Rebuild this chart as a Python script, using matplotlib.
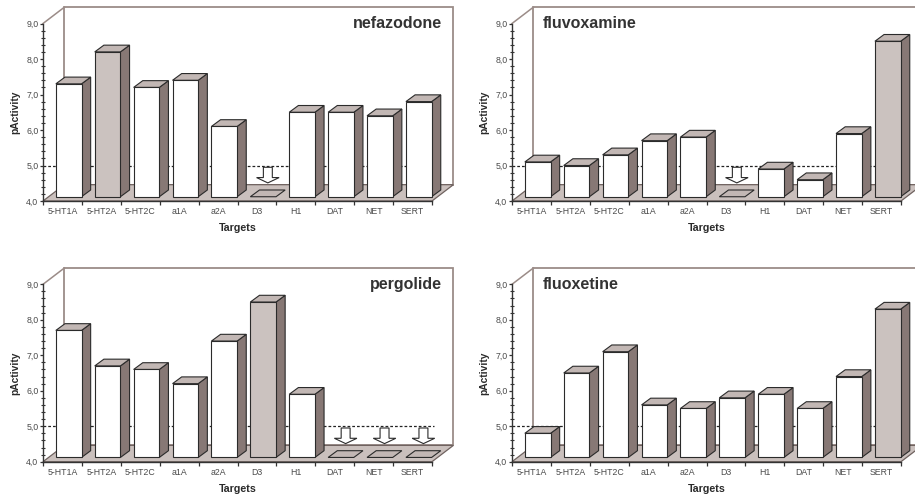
import matplotlib
matplotlib.use("Agg")
import matplotlib.pyplot as plt
from matplotlib.patches import Polygon, Rectangle
from matplotlib.ticker import MultipleLocator, FixedLocator, FixedFormatter, FuncFormatter

plt.rcParams["font.family"] = ["Liberation Sans", "DejaVu Sans"]

# ---- data -----------------------------------------------------------------
targets = ["5-HT1A", "5-HT2A", "5-HT2C", "a1A", "a2A", "D3", "H1", "DAT", "NET", "SERT"]

# None = activity below the 5.0 threshold (drawn as a down arrow)
nefazodone = [7.3, 8.2, 7.2, 7.4, 6.1, None, 6.5, 6.5, 6.4, 6.8]
fluvoxamine = [5.1, 5.0, 5.3, 5.7, 5.8, None, 4.9, 4.6, 5.9, 8.5]
pergolide = [7.7, 6.7, 6.6, 6.2, 7.4, 8.5, 5.9, None, None, None]
fluoxetine = [4.8, 6.5, 7.1, 5.6, 5.5, 5.8, 5.9, 5.5, 6.4, 8.3]

drugs = ["nefazodone", "fluvoxamine", "pergolide", "fluoxetine"]
series = [nefazodone, fluvoxamine, pergolide, fluoxetine]
primary_target = ["5-HT2A", "SERT", "D3", "SERT"]

threshold = 5.0
y_min, y_max = 4.0, 9.0

# ---- styling ----------------------------------------------------------------
WALL_EDGE = "#9b8c88"
FLOOR = "#cac0bd"
SIDE = "#877875"
TOP = "#c2b7b4"
HILITE = "#cbc2bf"
EDGE = "#2b2b2b"

DX, DY = 0.55, 0.46          # depth of the box (x in slots, y in value units)
BX0, BX1 = 0.33, 0.99        # bar front face within its slot
BASE = 4.12                  # bar base (sits back on the floor)
BDX, BDY = 0.235, 0.19       # bar depth

fig = plt.figure(figsize=(9.15, 4.95), dpi=100)
W, H = 915.0, 495.0
positions = [
    (43, 201.0, 177.5, "right"),
    (512, 201.0, 177.5, "left"),
    (43, 461.7, 177.4, "right"),
    (512, 461.7, 177.4, "left"),
]


def comma_fmt(v, pos):
    return f"{v:.1f}".replace(".", ",")


for drug, vals, prim, (px, pbot, ph, title_side) in zip(drugs, series, primary_target, positions):
    ax = fig.add_axes([px / W, (H - pbot) / H, 389 / W, ph / H])
    ax.set_xlim(0, len(targets))
    ax.set_ylim(y_min, y_max)
    ax.patch.set_visible(False)
    n = len(targets)

    # back wall and left edge
    ax.add_patch(Rectangle((DX, y_min + DY), n, y_max - y_min, facecolor="white",
                           edgecolor=WALL_EDGE, lw=1.3, zorder=0.5, clip_on=False))
    ax.plot([0, DX], [y_max, y_max + DY], color=WALL_EDGE, lw=1.1, zorder=0.6, clip_on=False)

    # floor
    ax.add_patch(Polygon([(0, y_min), (n, y_min), (n + DX, y_min + DY), (DX, y_min + DY)],
                         closed=True, facecolor=FLOOR, edgecolor="#6f625f", lw=0.9,
                         zorder=1, clip_on=False))

    # threshold line
    ax.plot([0, n + 0.05], [threshold, threshold], color="#222222", lw=0.9,
            dashes=(2.2, 1.6), zorder=1.5, clip_on=False)

    for i, (t, v) in enumerate(zip(targets, vals)):
        x0, x1 = i + BX0, i + BX1
        if v is None:
            # flat marker on the floor plus a down arrow
            ax.add_patch(Polygon([(x0, BASE), (x1, BASE), (x1 + BDX, BASE + BDY), (x0 + BDX, BASE + BDY)],
                                 closed=True, facecolor=TOP, edgecolor=EDGE, lw=0.8, zorder=3,
                                 clip_on=False))
            cx = i + 0.78
            sw, hw = 0.115, 0.29
            top_y, neck_y, tip_y = 4.95, 4.66, 4.51
            ax.add_patch(Polygon([(cx - sw, top_y), (cx + sw, top_y), (cx + sw, neck_y),
                                  (cx + hw, neck_y), (cx, tip_y), (cx - hw, neck_y),
                                  (cx - sw, neck_y)],
                                 closed=True, facecolor="white", edgecolor=EDGE, lw=0.8,
                                 zorder=3, clip_on=False))
            continue
        front = HILITE if t == prim else "white"
        ax.add_patch(Polygon([(x1, BASE), (x1 + BDX, BASE + BDY), (x1 + BDX, v + BDY), (x1, v)],
                             closed=True, facecolor=SIDE, edgecolor=EDGE, lw=0.8, zorder=3,
                             clip_on=False))
        ax.add_patch(Polygon([(x0, v), (x1, v), (x1 + BDX, v + BDY), (x0 + BDX, v + BDY)],
                             closed=True, facecolor=TOP, edgecolor=EDGE, lw=0.8, zorder=3,
                             clip_on=False))
        ax.add_patch(Rectangle((x0, BASE), BX1 - BX0, v - BASE, facecolor=front,
                               edgecolor=EDGE, lw=0.8, zorder=3.1, clip_on=False))

    # axes, ticks
    for s in ("top", "right"):
        ax.spines[s].set_visible(False)
    ax.spines["left"].set_color("#333333")
    ax.spines["left"].set_linewidth(1.0)
    ax.spines["bottom"].set_color("#333333")
    ax.spines["bottom"].set_linewidth(1.0)
    ax.spines["bottom"].set_zorder(1.2)

    ax.yaxis.set_major_locator(MultipleLocator(1.0))
    ax.yaxis.set_minor_locator(MultipleLocator(0.2))
    ax.yaxis.set_major_formatter(FuncFormatter(comma_fmt))
    ax.tick_params(axis="y", which="major", direction="out", length=2.5, width=0.9,
                   pad=0.8, labelsize=6.3, labelcolor="#4a4a4a", color="#333333")
    ax.tick_params(axis="y", which="minor", direction="inout", length=2.6, width=0.8,
                   color="#333333")

    ax.xaxis.set_major_locator(FixedLocator([i + 0.5 for i in range(n)]))
    ax.xaxis.set_major_formatter(FixedFormatter(targets))
    ax.xaxis.set_minor_locator(FixedLocator(list(range(n + 1))))
    ax.tick_params(axis="x", which="major", length=0, pad=4.5, labelsize=6.3,
                   labelcolor="#4a4a4a")
    ax.tick_params(axis="x", which="minor", direction="out", length=3, width=0.9,
                   color="#333333")

    ax.text(-0.072, 0.5, "pActivity", transform=ax.transAxes, rotation=90,
            ha="center", va="center", fontsize=7.4, fontweight="bold", color="#2a2a2a")
    ax.text(0.5, -0.152, "Targets", transform=ax.transAxes, ha="center", va="center",
            fontsize=7.7, fontweight="bold", color="#2a2a2a")

    if title_side == "right":
        ax.text(10.25, y_max, drug, ha="right", va="center", fontsize=11.5,
                fontweight="bold", color="#333333", zorder=4)
    else:
        ax.text(0.8, y_max, drug, ha="left", va="center", fontsize=11.5,
                fontweight="bold", color="#333333", zorder=4)

fig.savefig("out.png", dpi=100)
